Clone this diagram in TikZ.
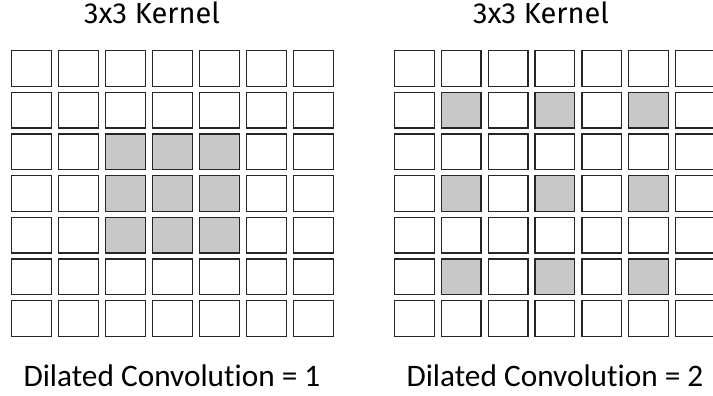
\documentclass[tikz,border=0pt]{standalone}
\usepackage{fontspec}
\newfontfamily\titlefont{Fira Sans}
\newfontfamily\capfont[Ligatures=NoCommon]{Carlito}
\definecolor{kernelgray}{RGB}{200,200,200}

\begin{document}
\begin{tikzpicture}[
x = 1pt, y = -1pt,
cell/.style = {draw=black!85, line width=1.4pt, rectangle, fill=white,
  minimum width=39.6pt, minimum height=35.6pt, inner sep=0pt},
hit/.style = {cell, fill=kernelgray},
title/.style = {anchor=base, font=\titlefont\fontsize{29}{34}\selectfont},
caption/.style = {anchor=base, font=\capfont\fontsize{31.3}{37}\selectfont},
]
\useasboundingbox (0,0) rectangle (713,396);

\foreach \r in {0,...,6}
  \foreach \c in {0,...,6} {
    \node [cell] (a\r\c) at (31.5+47*\c, 68.5+41.67*\r) {};
    \node [cell] (b\r\c) at (414.5+46.8*\c, 68.5+41.67*\r) {};
  }

\foreach \r in {2,3,4}
  \foreach \c in {2,3,4}
    \node [hit] (ka\r\c) at (a\r\c) {};
\foreach \r in {1,3,5}
  \foreach \c in {1,3,5}
    \node [hit] (kb\r\c) at (b\r\c) {};

\node [title] (t1) at (152, 24) {3x3 Kernel};
\node [title] (t2) at (541, 24) {3x3 Kernel};
\node [caption] (c1) at (172, 386) {Dilated Convolution = 1};
\node [caption] (c2) at (555, 386) {Dilated Convolution = 2};

\end{tikzpicture}
\end{document}
